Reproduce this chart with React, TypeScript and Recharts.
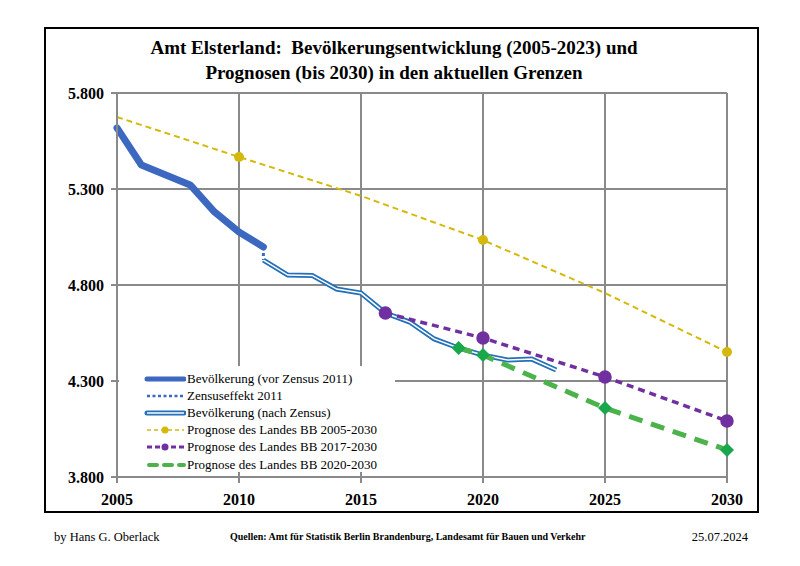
import React from 'react';
import { LineChart, Line, XAxis, YAxis, CartesianGrid } from 'recharts';

// Jahre und Werte
const yearTicks = [2005, 2010, 2015, 2020, 2025, 2030];
const popTicks = [3800, 4300, 4800, 5300, 5800];

const vorYears = [2005, 2006, 2007, 2008, 2009, 2010, 2011];
const vorValues = [5618, 5425, 5373, 5321, 5180, 5076, 4998];

const zensusYears = [2011, 2011];
const zensusValues = [4998, 4930];

const nachYears = [2011, 2012, 2013, 2014, 2015, 2016, 2017, 2018, 2019, 2020, 2021, 2022, 2023];
const nachValues = [4930, 4852, 4850, 4779, 4758, 4654, 4607, 4519, 4472, 4435, 4409, 4414, 4357];

const prog05Years = [2005, 2010, 2015, 2020, 2025, 2030];
const prog05Values = [5675, 5467, 5264, 5034, 4758, 4451];
const prog05Markers = [2010, 2020, 2030];

const prog17Years = [2016, 2020, 2025, 2030];
const prog17Values = [4654, 4524, 4321, 4092];

const prog20Years = [2019, 2020, 2025, 2030];
const prog20Values = [4472, 4435, 4159, 3941];

const toPoints = (xs: number[], ys: number[]) => xs.map((x, i) => ({ year: x, value: ys[i] }));

const vorData = toPoints(vorYears, vorValues);
const zensusData = toPoints(zensusYears, zensusValues);
const nachData = toPoints(nachYears, nachValues);
const prog05Data = toPoints(prog05Years, prog05Values);
const prog17Data = toPoints(prog17Years, prog17Values);
const prog20Data = toPoints(prog20Years, prog20Values);

// Farben
const BLUE = '#3d68c0';
const BLUE_NACH = '#2270b8';
const YELLOW = '#d4b90c';
const PURPLE = '#7030a0';
const GREEN = '#4cb24c';
const GREEN_MARK = '#1aa64a';
const GRID = '#8a8a8a';

const FONT = '"Liberation Serif", "DejaVu Serif", serif';

const fmt = (v: number) => v.toLocaleString('de-DE');

const YellowDot = (props: any) => {
  const { cx, cy, payload } = props;
  if (!prog05Markers.includes(payload.year)) return null;
  return <circle key={payload.year} cx={cx} cy={cy} r={5} fill={YELLOW} />;
};

const Diamond = (props: any) => {
  const { cx, cy, payload } = props;
  const s = 7;
  return (
    <polygon
      key={payload.year}
      points={`${cx},${cy - s} ${cx + s},${cy} ${cx},${cy + s} ${cx - s},${cy}`}
      fill={GREEN_MARK}
    />
  );
};

const legendItems = [
  { label: 'Bevölkerung (vor Zensus 2011)', kind: 'vor' },
  { label: 'Zensuseffekt 2011', kind: 'zensus' },
  { label: 'Bevölkerung (nach Zensus)', kind: 'nach' },
  { label: 'Prognose des Landes BB 2005-2030', kind: 'p05' },
  { label: 'Prognose des Landes BB 2017-2030', kind: 'p17' },
  { label: 'Prognose des Landes BB 2020-2030', kind: 'p20' },
];

const LegendSample = ({ kind }: { kind: string }) => (
  <svg width={42} height={12} style={{ marginRight: 1, flex: 'none' }}>
    {kind === 'vor' && <line x1={3} y1={6} x2={40} y2={6} stroke={BLUE} strokeWidth={5} strokeLinecap="round" />}
    {kind === 'zensus' && <line x1={3} y1={6} x2={40} y2={6} stroke={BLUE} strokeWidth={2.5} strokeDasharray="3 2.5" />}
    {kind === 'nach' && (
      <g>
        <line x1={3} y1={6} x2={40} y2={6} stroke={BLUE_NACH} strokeWidth={5} strokeLinecap="round" />
        <line x1={3} y1={6} x2={40} y2={6} stroke="#fff" strokeWidth={1.5} />
      </g>
    )}
    {kind === 'p05' && (
      <g>
        <line x1={3} y1={6} x2={40} y2={6} stroke={YELLOW} strokeWidth={1.5} strokeDasharray="4 3" />
        <circle cx={21} cy={6} r={3.5} fill={YELLOW} />
      </g>
    )}
    {kind === 'p17' && (
      <g>
        <line x1={3} y1={6} x2={40} y2={6} stroke={PURPLE} strokeWidth={3} strokeDasharray="5 3" />
        <circle cx={21} cy={6} r={3.5} fill={PURPLE} />
      </g>
    )}
    {kind === 'p20' && (
      <line x1={5} y1={6} x2={40} y2={6} stroke={GREEN} strokeWidth={4} strokeDasharray="8 7" strokeLinecap="round" />
    )}
  </svg>
);

export default function App() {
  return (
    <div style={{ position: 'absolute', left: 0, top: 0, width: 800, height: 566, background: '#fff', fontFamily: FONT }}>
      {/* Rahmen */}
      <div style={{ position: 'absolute', left: 44, top: 27, width: 711, height: 482, border: '2px solid #000' }} />

      {/* Titel */}
      <div
        style={{
          position: 'absolute', left: 44, top: 35, width: 700, textAlign: 'center',
          fontSize: 19, fontWeight: 'bold', lineHeight: '25px', color: '#000',
        }}
      >
        Amt Elsterland:&nbsp; Bevölkerungsentwicklung (2005-2023) und<br />
        Prognosen (bis 2030) in den aktuellen Grenzen
      </div>

      <div style={{ position: 'absolute', left: 0, top: 0 }}>
        <LineChart width={800} height={566} margin={{ top: 93, right: 73, left: 57, bottom: 59 }}>
          <CartesianGrid stroke={GRID} strokeWidth={2} />
          <XAxis
            dataKey="year"
            type="number"
            domain={[2005, 2030]}
            ticks={yearTicks}
            allowDuplicatedCategory={false}
            height={30}
            stroke={GRID}
            strokeWidth={2}
            tickSize={6}
            tick={{ fill: '#000', fontSize: 16, fontWeight: 'bold', fontFamily: FONT, dy: 9 }}
          />
          <YAxis
            type="number"
            domain={[3800, 5800]}
            ticks={popTicks}
            width={60}
            stroke={GRID}
            strokeWidth={2}
            tickSize={6}
            tickFormatter={fmt}
            tick={{ fill: '#000', fontSize: 16, fontWeight: 'bold', fontFamily: FONT, dx: -5 }}
          />
          <Line data={prog05Data} dataKey="value" stroke={YELLOW} strokeWidth={2} strokeDasharray="6 4" dot={<YellowDot />} isAnimationActive={false} />
          <Line data={vorData} dataKey="value" stroke={BLUE} strokeWidth={7} dot={false} strokeLinecap="round" strokeLinejoin="round" isAnimationActive={false} />
          <Line data={zensusData} dataKey="value" stroke={BLUE} strokeWidth={3} strokeDasharray="3 3" dot={false} isAnimationActive={false} />
          <Line data={nachData} dataKey="value" stroke={BLUE_NACH} strokeWidth={5} dot={false} isAnimationActive={false} />
          <Line data={nachData} dataKey="value" stroke="#fff" strokeWidth={1.5} dot={false} isAnimationActive={false} />
          <Line data={prog17Data} dataKey="value" stroke={PURPLE} strokeWidth={3.5} strokeDasharray="7 5" dot={{ r: 5, fill: PURPLE, stroke: PURPLE, strokeDasharray: '' }} isAnimationActive={false} />
          <Line data={prog20Data} dataKey="value" stroke={GREEN} strokeWidth={5} strokeDasharray="14 9" dot={<Diamond />} isAnimationActive={false} />
        </LineChart>
      </div>

      {/* Legende */}
      <div
        style={{
          position: 'absolute', left: 119, top: 366, width: 276, height: 106, background: '#fff',
          padding: '4px 0 0 25px', boxSizing: 'border-box', fontSize: 13, color: '#000',
        }}
      >
        {legendItems.map((it) => (
          <div key={it.kind} style={{ display: 'flex', alignItems: 'center', height: 17.2, whiteSpace: 'nowrap' }}>
            <LegendSample kind={it.kind} />
            <span>{it.label}</span>
          </div>
        ))}
      </div>

      {/* Fußzeile */}
      <div style={{ position: 'absolute', left: 54, top: 530, fontSize: 12.5, color: '#000' }}>by Hans G. Oberlack</div>
      <div style={{ position: 'absolute', left: 230, top: 531, fontSize: 10, fontWeight: 'bold', color: '#000', whiteSpace: 'nowrap' }}>
        Quellen: Amt für Statistik Berlin Brandenburg, Landesamt für Bauen und Verkehr
      </div>
      <div style={{ position: 'absolute', right: 52, top: 530, fontSize: 12.5, color: '#000' }}>25.07.2024</div>
    </div>
  );
}
